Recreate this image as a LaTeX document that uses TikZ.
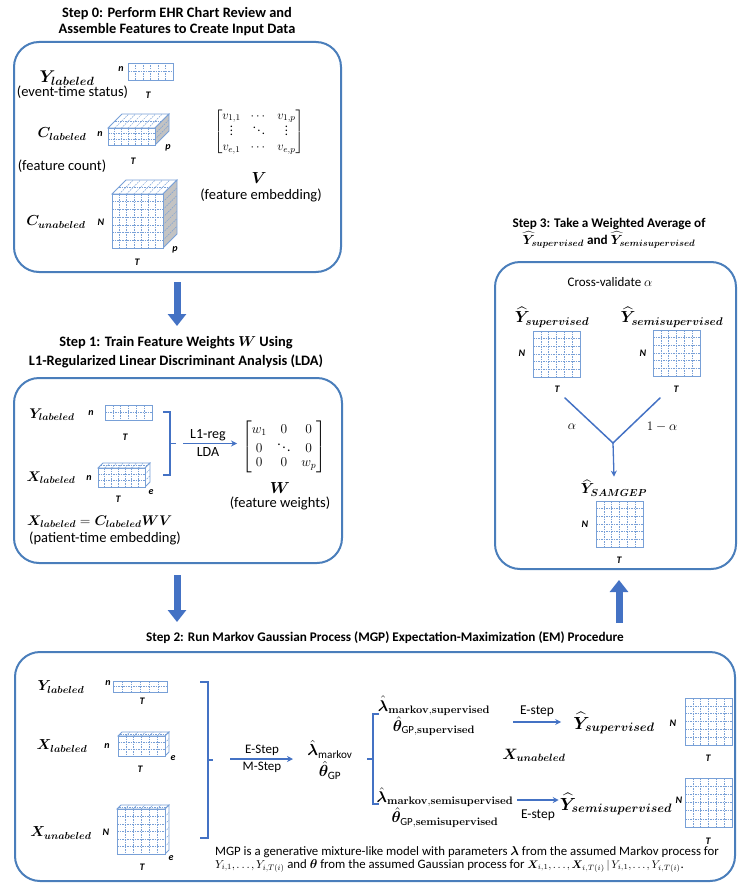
\RequirePackage{fix-cm}
\documentclass[tikz,border=0pt]{standalone}
\usepackage{amsmath,bm}
\usepackage[no-math]{fontspec}
\setmainfont{Carlito}
\usetikzlibrary{arrows.meta}
\definecolor{boxblue}{RGB}{74,126,187}
\definecolor{arrowblue}{RGB}{68,114,196}
\definecolor{gridblue}{RGB}{120,160,215}
\definecolor{sidegray}{RGB}{195,195,195}
\newcommand\fs[1]{\fontsize{#1}{1.2\dimexpr#1pt\relax}\selectfont}
\newcommand\tdots{\mkern-1mu\ldots\mkern-1mu}
\tikzset{
  box/.style={draw=boxblue, line width=2pt, rounded corners=25pt, inner sep=0pt},
  ttl/.style={font=\bfseries, align=center, inner sep=0pt},
  txt/.style={font=\fs{14.5}, inner sep=0pt},
  mlab/.style={font=\fs{15}, inner sep=0pt},
  dimlab/.style={font=\fs{10}\bfseries\itshape, inner sep=0pt},
  bigarrow/.style={draw=arrowblue, line width=7pt, -{Triangle[width=18pt,length=12pt]}},
  thinarrow/.style={draw=arrowblue, line width=1.3pt, -{Stealth[width=6pt,length=6pt]}},
  brk/.style={draw=arrowblue, line width=1.5pt},
  gridfr/.style={draw=gridblue, line width=0.8pt},
  gridin/.style={draw=gridblue, line width=0.5pt, dash pattern=on 1.5pt off 1pt},
}
% grid: x,y (top-left), w, h, ncols, nrows
\newcommand\gridrect[6]{%
  \fill[white] (#1,#2) rectangle ++(#3,#4);
  \foreach \k in {1,...,#5}{\ifnum\k<#5\relax\draw[gridin] ({#1+#3*\k/#5},#2) -- ++(0,#4);\fi}
  \foreach \k in {1,...,#6}{\ifnum\k<#6\relax\draw[gridin] (#1,{#2+#4*\k/#6}) -- ++(#3,0);\fi}
  \draw[gridfr] (#1,#2) rectangle ++(#3,#4);
}
% cube: x,y (front top-left), w, h, depth, ncols, nrows, side fill
\newcommand\mycube[8]{%
  \draw[gridfr, fill=white] (#1,#2) -- ++(#5,-#5) -- ++(#3,0) -- ++(-#5,#5) -- cycle;
  \foreach \k in {1,...,#6}{\ifnum\k<#6\relax\draw[gridin] ({#1+#3*\k/#6},#2) -- ++(#5,-#5);\fi}
  \draw[gridin] ({#1+#5/2},{#2-#5/2}) -- ++(#3,0);
  \draw[gridfr, fill=#8] ({#1+#3},#2) -- ++(#5,-#5) -- ++(0,#4) -- ++(-#5,#5) -- cycle;
  \foreach \k in {1,...,#7}{\ifnum\k<#7\relax\draw[gridin] ({#1+#3},{#2+#4*\k/#7}) -- ++(#5,-#5);\fi}
  \gridrect{#1}{#2}{#3}{#4}{#6}{#7}
}
\begin{document}
\begin{tikzpicture}[x=1pt,y=-1pt]
\useasboundingbox (0,0) rectangle (738,883);

%================ STEP 0 =================
\node[ttl, font=\fontsize{14.4}{15.5}\selectfont\bfseries] (t0) at (177,21.5) {Step 0: Perform EHR Chart Review and\\Assemble Features to Create Input Data};
\node[box, minimum width=327pt, minimum height=230pt] (box0) at (177.5,157) {};

\node[mlab, font=\fs{17}] (y0) at (67,78) {$\bm{Y}_{\bm{labeled}}$};
\node[txt] (y0d) at (72.5,92) {(event-time status)};
\gridrect{128}{63}{45}{17}{6}{2}
\node[dimlab] (y0n) at (121,69) {n};
\node[dimlab] (y0t) at (148,95) {T};

\node[mlab, font=\fs{14.5}] (c0) at (62,134) {$\bm{C}_{\bm{labeled}}$};
\node[dimlab] (c0n) at (100,134) {n};
\mycube{108}{128}{47}{17}{14}{7}{3}{sidegray}
\node[dimlab] (c0p) at (168,148) {p};
\node[dimlab] (c0t) at (133,161) {T};
\node[txt] (c0d) at (62,166) {(feature count)};

\node[font=\fs{12.5}, inner sep=0pt] (vm) at (259,132)
  {$\begin{bmatrix} v_{1,1} & \cdots & v_{1,p}\\[-3pt] \vdots & \ddots & \vdots\\ v_{e,1} & \cdots & v_{e,p}\end{bmatrix}$};
\node[mlab, font=\fs{16}] (vl) at (259,178) {$\bm{V}$};
\node[txt] (vd) at (261,195) {(feature embedding)};

\node[mlab, font=\fs{14.5}] (cu) at (56,222) {$\bm{C}_{\bm{unabeled}}$};
\node[dimlab] (cun) at (101,222) {N};
\mycube{112}{194}{51}{54}{14}{7}{7}{sidegray}
\node[dimlab] (cup) at (175,250) {p};
\node[dimlab] (cut) at (137,262) {T};

\coordinate (a0s) at (177,282);
\coordinate (a0e) at (177,326);
\draw[bigarrow] (a0s) -- (a0e);

%================ STEP 1 =================
\node[ttl, font=\fontsize{14.4}{19}\selectfont\bfseries] (t1) at (176,352.5) {Step 1: Train Feature Weights $\bm{W}$ Using\\L1-Regularized Linear Discriminant Analysis (LDA)};
\node[box, minimum width=328pt, minimum height=185pt] (box1) at (178,470.5) {};

\node[mlab, font=\fs{14}] (y1) at (52,415) {$\bm{Y}_{\bm{labeled}}$};
\node[dimlab] (y1n) at (91,413) {n};
\gridrect{105}{405}{47}{15}{6}{2}
\node[dimlab] (y1t) at (125,437) {T};

\node[mlab, font=\fs{14}] (x1) at (51,478) {$\bm{X}_{\bm{labeled}}$};
\node[dimlab] (x1n) at (89,478) {n};
\mycube{98}{468}{47}{19}{5}{7}{3}{white}
\node[dimlab] (x1e) at (151,492) {e};
\node[dimlab] (x1t) at (118,499) {T};

\coordinate (b1t) at (163,412);
\coordinate (b1b) at (163,475);
\coordinate (b1m) at (176,443.5);
\draw[brk] (b1t) -- (170,412) -- (170,475) -- (b1b);
\draw[brk] (170,443.5) -- (b1m);

\node[font=\fs{13.5}, inner sep=0pt] (wm) at (284,447)
  {$\begin{bmatrix} w_1 & 0 & 0\\[-2pt] 0 & \ddots & 0\\[-2pt] 0 & 0 & w_p\end{bmatrix}$};
\coordinate (a1) at (183,443.5);
\draw[thinarrow, shorten >=5pt] (a1) -- (a1 -| wm.west);
\node[txt, font=\fs{14}] (l1r) at (208,435) {L1-reg};
\node[txt, font=\fs{14}] (lda) at (208,452) {LDA};
\node[mlab, font=\fs{16}] (wl) at (280,488) {$\bm{W}$};
\node[txt] (wd) at (280,503) {(feature weights)};

\node[mlab, font=\fs{14}, anchor=west] (xe) at (27,522) {$\bm{X}_{\bm{labeled}} = \bm{C}_{\bm{labeled}}\bm{W}\bm{V}$};
\node[txt] (xed) at (105,538) {(patient-time embedding)};

\coordinate (a1s) at (177,575);
\coordinate (a1e) at (177,622);
\draw[bigarrow] (a1s) -- (a1e);

%================ STEP 2 =================
\node[ttl, font=\fontsize{13.2}{16}\selectfont\bfseries] (t2) at (385,638) {Step 2: Run Markov Gaussian Process (MGP) Expectation-Maximization (EM) Procedure};
\node[box, minimum width=720pt, minimum height=229pt] (box2) at (375,766.5) {};

\node[mlab, font=\fs{14.5}] (y2) at (61,687) {$\bm{Y}_{\bm{labeled}}$};
\node[dimlab] (y2n) at (108,683) {n};
\gridrect{113}{681}{54}{11}{6}{2}
\node[dimlab] (y2t) at (142,701) {T};

\node[mlab, font=\fs{14.5}] (x2) at (62,746) {$\bm{X}_{\bm{labeled}}$};
\node[dimlab] (x2n) at (107,746) {n};
\mycube{118}{736}{47}{20}{4}{6}{3}{white}
\node[dimlab] (x2e) at (173,758) {e};
\node[dimlab] (x2t) at (140,769) {T};

\node[mlab, font=\fs{14.5}] (xu2) at (61,833) {$\bm{X}_{\bm{unabeled}}$};
\node[dimlab] (xu2n) at (106,832) {N};
\mycube{117}{809}{48}{45}{4}{6}{6}{white}
\node[dimlab] (xu2e) at (171,858) {e};
\node[dimlab] (xu2t) at (142,867) {T};

\coordinate (b2t) at (200,682);
\coordinate (b2b) at (200,838);
\coordinate (b2m) at (213,760);
\draw[brk] (b2t) -- (208,682) -- (208,838) -- (b2b);
\draw[brk] (208,760) -- (b2m);

\coordinate (a2) at (230,759);
\coordinate (a2x) at (293,759);
\draw[thinarrow] (a2) -- (a2x);
\node[txt, font=\fs{13}] (es) at (262,750) {E-Step};
\node[txt, font=\fs{13}] (ms) at (262,767) {M-Step};

\node[mlab, font=\fontsize{16}{21}\selectfont, align=center] (lmtg) at (330,760)
  {$\hat{\bm{\lambda}}_{\text{markov}}$\\$\hat{\bm{\theta}}_{\text{GP}}$};

\coordinate (b3t) at (379,714);
\coordinate (b3b) at (379,804);
\coordinate (b3m) at (367,759);
\draw[brk] (b3t) -- (373,714) -- (373,804) -- (b3b);
\draw[brk] (373,759) -- (b3m);

\node[mlab, font=\fontsize{15.5}{19}\selectfont, align=center] (lts) at (434,716)
  {$\hat{\bm{\lambda}}_{\mathbf{markov,supervised}}$\\$\hat{\bm{\theta}}_{\text{GP},\mathbf{supervised}}$};
\node[mlab, font=\fs{17.5}] (ys) at (614,723) {$\widehat{\bm{Y}}_{\bm{supervised}}$};
\coordinate (e1s) at (513,722);
\draw[thinarrow] (e1s) -- ([xshift=-12pt]ys.west |- e1s);
\node[txt, font=\fs{13.5}] (e1) at (537,711) {E-step};
\node[dimlab] (ysn) at (673,723) {N};
\gridrect{685}{698}{47}{47}{6}{6}
\node[dimlab] (yst) at (708,758) {T};

\node[mlab] (xu3) at (534,755) {$\bm{X}_{\bm{unabeled}}$};

\node[mlab, font=\fontsize{15.5}{19}\selectfont, align=center] (ltss) at (445,807.5)
  {$\hat{\bm{\lambda}}_{\mathbf{markov,semisupervised}}$\\$\hat{\bm{\theta}}_{\text{GP},\mathbf{semisupervised}}$};
\node[mlab, font=\fs{17.5}] (yss) at (616,804) {$\widehat{\bm{Y}}_{\bm{semisupervised}}$};
\coordinate (e2s) at (517,800);
\draw[thinarrow] (e2s) -- ([xshift=-1pt]yss.west |- e2s);
\node[txt, font=\fs{13.5}] (e2) at (538,815) {E-step};
\node[dimlab] (yssn) at (679,800) {N};
\gridrect{685}{778}{47}{49}{6}{6}
\node[dimlab] (ysst) at (708,841) {T};

\node[font=\fontsize{12.8}{13}\selectfont, anchor=north west, align=left, inner sep=0pt] (mgp) at (215,846)
  {MGP is a generative mixture-like model with parameters $\bm{\lambda}$ from the assumed Markov process for\\
   {\fontsize{11.5}{13}\selectfont$Y_{i,1},\tdots,Y_{i,T(i)}$} and $\bm{\theta}$ from the assumed Gaussian process for {\fontsize{11}{13}\selectfont$\bm{X}_{i,1},\tdots,\bm{X}_{i,T(i)}\,|\,Y_{i,1},\tdots,Y_{i,T(i)}$}.};

\coordinate (a2s) at (619,623);
\coordinate (a2e) at (619,580);
\draw[bigarrow] (a2s) -- (a2e);

%================ STEP 3 =================
\node[ttl, font=\fontsize{13.2}{17}\selectfont\bfseries] (t3) at (609,233.5) {Step 3: Take a Weighted Average of\\$\widehat{\bm{Y}}_{\bm{supervised}}$ and $\widehat{\bm{Y}}_{\bm{semisupervised}}$};
\node[box, minimum width=241pt, minimum height=307pt] (box3) at (615.5,415.5) {};

\node[txt, font=\fs{13}] (cv) at (610,282) {Cross-validate $\alpha$};

\node[mlab, font=\fs{16}] (ysup) at (552,317) {$\widehat{\bm{Y}}_{\bm{supervised}}$};
\gridrect{533}{331}{47}{46}{6}{6}
\node[dimlab] (ysupn) at (522,353) {N};
\node[dimlab] (ysupt) at (557,389) {T};

\node[mlab, font=\fs{16}] (ysem) at (672,317) {$\widehat{\bm{Y}}_{\bm{semisupervised}}$};
\gridrect{653}{330}{47}{46}{6}{6}
\node[dimlab] (ysemn) at (643,353) {N};
\node[dimlab] (ysemt) at (676,389) {T};

\coordinate (jl) at (565,398);
\coordinate (jr) at (660,398);
\coordinate (jm) at (613,443);
\draw[brk, line cap=round] (jl) -- (jm) -- (jr);
\node[mlab, font=\fs{13}] (al) at (572,427) {$\alpha$};
\node[mlab, font=\fs{13}] (oma) at (662,427) {$1-\alpha$};

\node[mlab, font=\fs{14.5}] (ysam) at (614,488) {$\widehat{\bm{Y}}_{\bm{SAMGEP}}$};
\draw[thinarrow] (jm) -- ([yshift=3pt]ysam.north);
\gridrect{596}{501}{47}{46}{6}{6}
\node[dimlab] (ysamn) at (585,524) {N};
\node[dimlab] (ysamt) at (619,560) {T};
\end{tikzpicture}
\end{document}
